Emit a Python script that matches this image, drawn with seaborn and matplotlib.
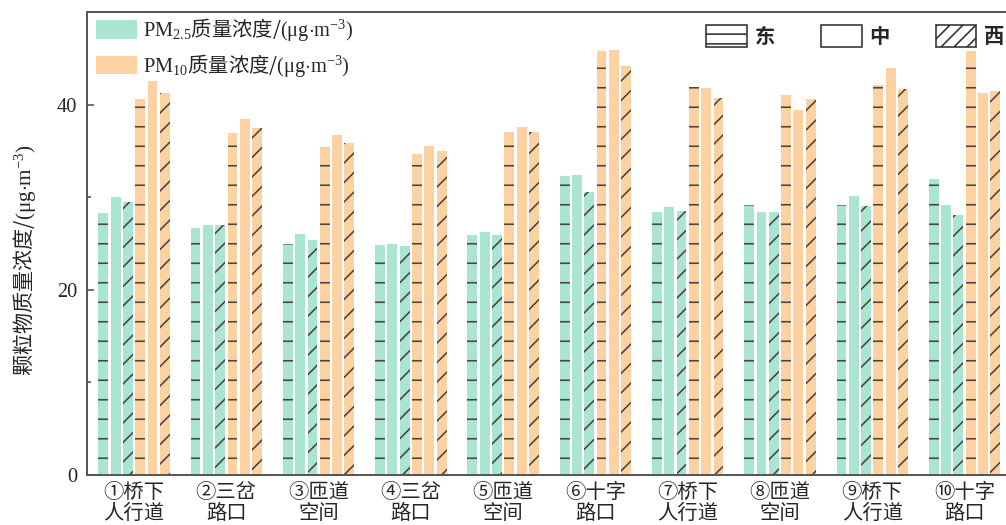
import numpy as np
import pandas as pd
import matplotlib.pyplot as plt
import seaborn as sns
from matplotlib.patches import Patch
from matplotlib.ticker import MultipleLocator

# ---------------- data ----------------
sites = ["①桥下\n人行道", "②三岔\n路口", "③匝道\n空间", "④三岔\n路口", "⑤匝道\n空间",
         "⑥十字\n路口", "⑦桥下\n人行道", "⑧匝道\n空间", "⑨桥下\n人行道", "⑩十字\n路口"]
pm25_east = [28.3, 26.7, 25.0, 24.8, 25.9, 32.3, 28.4, 29.2, 29.2, 32.0]
pm25_mid = [30.0, 27.0, 26.0, 25.0, 26.2, 32.4, 28.9, 28.4, 30.1, 29.2]
pm25_west = [29.5, 27.0, 25.4, 24.7, 25.9, 30.6, 28.5, 28.4, 29.0, 28.1]
pm10_east = [40.6, 36.9, 35.4, 34.7, 37.0, 45.8, 41.9, 41.0, 42.1, 45.8]
pm10_mid = [42.5, 38.4, 36.7, 35.5, 37.6, 45.9, 41.8, 39.4, 43.9, 41.3]
pm10_west = [41.3, 37.5, 35.8, 35.0, 37.0, 44.2, 40.7, 40.6, 41.7, 41.5]

series = {
    "PM2.5东": pm25_east, "PM2.5中": pm25_mid, "PM2.5西": pm25_west,
    "PM10东": pm10_east, "PM10中": pm10_mid, "PM10西": pm10_west,
}
rows = []
for name, vals in series.items():
    for s, v in zip(sites, vals):
        rows.append({"site": s, "series": name, "value": v})
df = pd.DataFrame(rows)

# ---------------- style ----------------
sns.set_style("ticks")
plt.rcParams['font.family'] = ['Liberation Serif', 'Noto Sans CJK SC', 'DejaVu Sans']
plt.rcParams['mathtext.fontset'] = 'custom'
plt.rcParams['mathtext.rm'] = 'Liberation Serif'
plt.rcParams['mathtext.it'] = 'Liberation Serif:italic'
plt.rcParams['mathtext.bf'] = 'Liberation Serif:bold'
plt.rcParams['hatch.linewidth'] = 1.0
plt.rcParams['axes.unicode_minus'] = False

teal = '#aae4d3'
orange = '#fdd2a2'
hatch_col = '#4a4640'
spine_col = '#555555'
cjk = 'Noto Sans CJK SC'
unit = r"/$(\mathrm{\mu g{\cdot}m}^{-3})$"

DPI = 117
fig = plt.figure(figsize=(1006 / DPI, 525 / DPI), dpi=DPI)
ax = fig.add_axes([87 / 1006, 50 / 525, 919 / 1006, 463 / 525])

sns.barplot(data=df, x="site", y="value", hue="series", order=sites,
            hue_order=list(series.keys()),
            palette=[teal, teal, teal, orange, orange, orange],
            width=0.8, gap=0.2, saturation=1, legend=False, ax=ax)

# east = horizontal lines, middle = plain, west = diagonal lines
hatches = ['-', '', '//', '-', '', '//']
for cont, h in zip(ax.containers, hatches):
    for bar in cont:
        bar.set_edgecolor(hatch_col)
        bar.set_linewidth(0)
        bar.set_hatch(h)

ax.set_xlim(-0.51, 9.45)
ax.set_ylim(0, 50)
ax.yaxis.set_major_locator(MultipleLocator(20))
ax.yaxis.set_minor_locator(MultipleLocator(10))
ax.tick_params(axis='y', which='major', direction='in', length=4, width=1,
               color=spine_col, labelsize=12.5, pad=6)
ax.tick_params(axis='y', which='minor', direction='in', length=2.5, width=1,
               color=spine_col)
ax.tick_params(axis='x', length=0, pad=4)
ax.set_xticks(range(len(sites)))
ax.set_xticklabels(sites, fontsize=12.5, family=cjk, linespacing=1.05)
for lab in ax.get_yticklabels():
    lab.set_fontfamily('Liberation Serif')

ax.set_xlabel("")
ax.set_ylabel("颗粒物质量浓度" + unit, fontsize=13, family=cjk)
ax.yaxis.set_label_coords(-0.053, 0.465)

for side in ['left', 'bottom', 'top']:
    ax.spines[side].set_color(spine_col)
    ax.spines[side].set_linewidth(1.2)
ax.spines['right'].set_visible(False)

# legend: pollutant colours
pm_handles = [Patch(facecolor=teal, edgecolor='none'),
              Patch(facecolor=orange, edgecolor='none')]
pm_labels = [r"$\mathrm{PM}_{2.5}$质量浓度" + unit,
             r"$\mathrm{PM}_{10}$质量浓度" + unit]
leg1 = ax.legend(pm_handles, pm_labels, loc='upper left', bbox_to_anchor=(-0.006, 1.021),
                 frameon=False, handlelength=2.05, handleheight=1.0, handletextpad=0.3,
                 labelspacing=0.4, borderaxespad=0.3, prop={'family': cjk, 'size': 12.5})
ax.add_artist(leg1)

# legend: positions (hatch patterns)
pos_handles = [Patch(facecolor='white', edgecolor='#333333', hatch='--', lw=1),
               Patch(facecolor='white', edgecolor='#333333', lw=1),
               Patch(facecolor='white', edgecolor='#333333', hatch='///', lw=1)]
leg2 = ax.legend(pos_handles, ["东", "中", "西"], loc='upper right', bbox_to_anchor=(1.012, 0.998),
                 ncol=3, frameon=False, handlelength=2.0, handleheight=1.25,
                 handletextpad=0.4, columnspacing=2.25, borderaxespad=0.2,
                 prop={'family': cjk, 'size': 12.5, 'weight': 'bold'})

fig.savefig("out.png", dpi=DPI)
